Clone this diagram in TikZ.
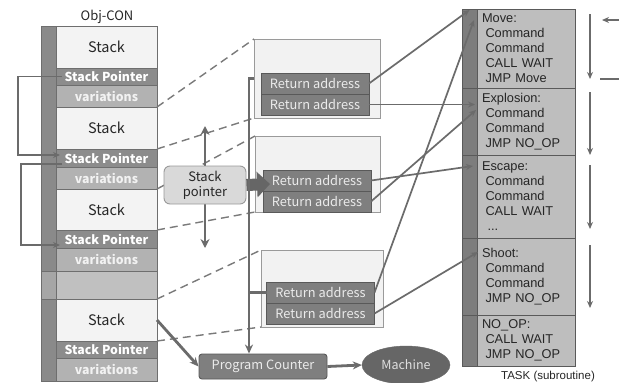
\documentclass[tikz,border=0pt]{standalone}
\usepackage{fontspec}
\setmainfont{Noto Sans CJK JP}
\newfontfamily\taskfont{Liberation Sans}
\usetikzlibrary{arrows.meta,shapes.geometric,calc}
\definecolor{stripc}{HTML}{8A8A8A}
\definecolor{stripgap}{HTML}{A6A6A6}
\definecolor{stackfill}{HTML}{F3F3F3}
\definecolor{spfill}{HTML}{8C8C8C}
\definecolor{varfill}{HTML}{B2B2B2}
\definecolor{gapfill}{HTML}{C0C0C0}
\definecolor{cellborder}{HTML}{6E6E6E}
\definecolor{grpfill}{HTML}{F2F2F2}
\definecolor{grpborder}{HTML}{9A9A9A}
\definecolor{rafill}{HTML}{7F7F7F}
\definecolor{raborder}{HTML}{595959}
\definecolor{taskfill}{HTML}{BEBEBE}
\definecolor{taskstripc}{HTML}{7D7D7D}
\definecolor{taskborder}{HTML}{5A5A5A}
\definecolor{connc}{HTML}{6B6B6B}
\definecolor{dashc}{HTML}{7A7A7A}
\definecolor{textdark}{HTML}{262626}
\definecolor{machfill}{HTML}{666666}
\definecolor{spboxfill}{HTML}{D9D9D9}
\newcommand\tind{\hspace*{3.5pt}}
\begin{document}
\begin{tikzpicture}[x=1pt,y=-1pt,
  cell/.style={draw=cellborder, line width=0.8pt, inner sep=0pt, outer sep=0pt, minimum width=101pt},
  stackcell/.style={cell, fill=stackfill, text=textdark, font=\fontsize{14.5}{16}\selectfont},
  spcell/.style={cell, fill=spfill, text=white, font=\bfseries\fontsize{12.3}{13}\selectfont},
  varcell/.style={cell, fill=varfill, text=white!95!black, font=\bfseries\fontsize{12.3}{13}\selectfont},
  gapcell/.style={cell, fill=gapfill},
  stripcell/.style={draw=cellborder, line width=0.8pt, inner sep=0pt, outer sep=0pt, minimum width=15pt},
  grp/.style={draw=grpborder, fill=grpfill, line width=0.8pt, inner sep=0pt, outer sep=0pt},
  ra/.style={draw=raborder, fill=rafill, line width=0.8pt, inner sep=0pt, outer sep=0pt, minimum width=108pt, minimum height=21pt, text=white!92!black, font=\fontsize{12.8}{14}\selectfont},
  taskcell/.style={draw=taskborder, fill=taskfill, line width=0.9pt, minimum width=98pt, text width=88pt, inner xsep=5pt, inner ysep=0pt, outer sep=0pt, align=left, text=textdark, font=\taskfont\fontsize{12.8}{15}\selectfont},
  taskstrip/.style={draw=taskborder, fill=taskstripc, line width=0.9pt, minimum width=15pt, inner sep=0pt, outer sep=0pt},
  conn/.style={draw=connc, line width=1.7pt},
  thick conn/.style={draw=connc, line width=2.8pt},
  tip/.style={-{Stealth[length=7pt,width=6pt]}},
  bigtip/.style={-{Stealth[length=9pt,width=8pt]}},
  dashline/.style={draw=dashc, line width=1.4pt, dash pattern=on 8pt off 5pt},
  lbl/.style={text=textdark, inner sep=0pt}
]
\useasboundingbox (0,0) rectangle (619,383);
\fill[white] (0,0) rectangle (619,383);

% ---------------- left column (Obj-CON)
\node[lbl, font=\fontsize{13}{14}\selectfont] (objcon) at (107,17) {Obj-CON};
\node[stripcell, fill=stripc, minimum height=245pt] (strip1) at (48.5,148.5) {};
\node[stripcell, fill=stripgap, minimum height=28pt] (strip2) at (48.5,285) {};
\node[stripcell, fill=stripc, minimum height=82pt] (strip3) at (48.5,340) {};

\node[stackcell, minimum height=42pt] (s1) at (106.5,47) {Stack};
\node[spcell, minimum height=17pt] (sp1) at (106.5,76.5) {Stack Pointer};
\node[varcell, minimum height=22pt] (v1) at (106.5,96) {variations};
\node[stackcell, minimum height=42pt] (s2) at (106.5,128) {Stack};
\node[spcell, minimum height=18pt] (sp2) at (106.5,158) {Stack Pointer};
\node[varcell, minimum height=22pt] (v2) at (106.5,178) {variations};
\node[stackcell, minimum height=41pt] (s3) at (106.5,209.5) {Stack};
\node[spcell, minimum height=18pt] (sp3) at (106.5,239) {Stack Pointer};
\node[varcell, minimum height=23pt] (v3) at (106.5,259.5) {variations};
\node[gapcell, minimum height=28pt] (gap) at (106.5,285) {};
\node[stackcell, minimum height=42pt] (s4) at (106.5,320) {Stack};
\node[spcell, minimum height=17pt] (sp4) at (106.5,349.5) {Stack Pointer};
\node[varcell, minimum height=23pt] (v4) at (106.5,369.5) {variations};

% loops between stack pointers
\draw[conn, tip] ($(sp1.west)+(6,0)$) -- (18,76.5) |- ($(sp2.west)+(4,-3)$);
\draw[conn, tip] ($(sp2.west)+(6,6)$) -- (21,164) |- ($(sp3.west)+(4,6)$);

% ---------------- return address groups
\node[grp, minimum width=126pt, minimum height=79pt] (g1) at (317,78.5) {};
\node[ra] (ra11) at (315,83.5) {Return address};
\node[ra] (ra12) at (315,104.5) {Return address};
\node[grp, minimum width=125pt, minimum height=76pt] (g2) at (317.5,174) {};
\node[ra] (ra21) at (317,180.5) {Return address};
\node[ra] (ra22) at (317,201.5) {Return address};
\node[grp, minimum width=122pt, minimum height=77pt] (g3) at (322,288.5) {};
\node[ra] (ra31) at (320.5,292.5) {Return address};
\node[ra] (ra32) at (320.5,313.5) {Return address};

% dashed projections
\draw[dashline] (s2.north east) -- (g1.north west);
\draw[dashline] (sp2.north east) -- (g1.south west);
\draw[dashline] (s3.north east) -- (g2.north west);
\draw[dashline] (sp3.north east) -- (g2.south west);
\draw[dashline] (s4.north east) -- (g3.north west);
\draw[dashline] (sp4.north east) -- (g3.south west);

% stack pointer box with double arrow
\coordinate (spu) at (205,126);
\coordinate (spd) at (205,248);
\draw[thick conn, {Stealth[length=9pt,width=9pt]}-{Stealth[length=9pt,width=9pt]}] (spu) -- (spd);
\node[draw=grpborder, fill=spboxfill, line width=0.9pt, rounded corners=6pt, minimum width=82pt, minimum height=38pt, align=center, text=textdark, font=\fontsize{13}{15}\selectfont, inner sep=0pt] (spbox) at (205,185) {Stack\\pointer};
\draw[draw=machfill, line width=12pt, -{Triangle[length=13pt,width=25pt]}] (spbox.east) -- (270,184);

% ---------------- program counter and machine
\node[draw=raborder, fill=rafill, line width=0.9pt, rounded corners=3pt, minimum width=128pt, minimum height=25pt, inner sep=0pt, text=white!92!black, font=\fontsize{12.8}{14}\selectfont] (pc) at (263,366.5) {Program Counter};
\node[ellipse, draw=machfill, fill=machfill, minimum width=88pt, minimum height=38pt, inner sep=0pt, text=white!88!black, font=\fontsize{12.5}{14}\selectfont] (mach) at (406,365) {Machine};
\draw[thick conn, bigtip] (pc.east) -- (mach.west);
\draw[thick conn, bigtip] (s4.east) -- (pc.west);

\coordinate (bus) at (249,78.5);
\draw[thick conn, bigtip] (g1.west) -- (bus) -- (bus |- pc.north);
\draw[thick conn] (ra31.west -| bus) -- (ra31.west);

% ---------------- tasks
\node[taskcell, minimum height=79pt] (t1) at (526,48.5) {Move:\\\tind Command\\\tind Command\\\tind CALL WAIT\\\tind JMP Move};
\node[taskstrip, minimum height=79pt] (st1) at (469.5,48.5) {};
\node[taskcell, minimum height=67pt] (t2) at (526,121.5) {Explosion:\\\tind Command\\\tind Command\\\tind JMP NO\_OP};
\node[taskstrip, minimum height=67pt] (st2) at (469.5,121.5) {};
\node[taskcell, minimum height=83pt] (t3) at (526,196.5) {Escape:\\\tind Command\\\tind Command\\\tind CALL WAIT\\\tind\hspace*{2pt}...};
\node[taskstrip, minimum height=83pt] (st3) at (469.5,196.5) {};
\node[taskcell, minimum height=77pt] (t4) at (526,276.5) {Shoot:\\\tind Command\\\tind Command\\\tind JMP NO\_OP};
\node[taskstrip, minimum height=77pt] (st4) at (469.5,276.5) {};
\node[taskcell, minimum height=51pt] (t5) at (526,340.5) {NO\_OP:\\\tind CALL WAIT\\\tind JMP NO\_OP};
\node[taskstrip, minimum height=51pt] (st5) at (469.5,340.5) {};
\node[lbl, anchor=south, font=\taskfont\fontsize{11.5}{13}\selectfont] (tasklbl) at (548,382.5) {TASK (subroutine)};

% return address -> task arrows
\draw[conn, tip] (ra11.east) -- ($(st1.north)+(0,1)$);
\draw[conn, tip] (ra31.east) -- ($(st1.north east)+(-3,11)$);
\draw[conn, tip] (ra12.east) -- ($(ra12.east -| st2.east)+(-2,0)$);
\draw[conn, tip] (ra22.east) -- ($(st2.north east)+(-1,22)$);
\draw[conn, tip] (ra21.east) -- ($(st3.north east)+(-4,11)$);
\draw[conn, tip] (ra32.east) -- ($(t4.north west)+(1,14)$);

% flow arrows on the right
\coordinate (f1a) at (590,14);  \coordinate (f1b) at (590,79);
\coordinate (f2a) at (590,92);  \coordinate (f2b) at (590,155);
\coordinate (f3a) at (590,165); \coordinate (f3b) at (590,229);
\coordinate (f4a) at (590,245); \coordinate (f4b) at (590,308);
\draw[conn, line width=1.4pt, tip] (f1a) -- (f1b);
\draw[conn, line width=1.4pt, tip] (f2a) -- (f2b);
\draw[conn, line width=1.4pt, tip] (f3a) -- (f3b);
\draw[conn, line width=1.4pt, tip] (f4a) -- (f4b);
\coordinate (r1a) at (620,20); \coordinate (r1b) at (602,20);
\coordinate (r2a) at (600,79); \coordinate (r2b) at (620,79);
\draw[conn, line width=1.4pt, tip] (r1a) -- (r1b);
\draw[conn, line width=1.4pt] (r2a) -- (r2b);
\end{tikzpicture}
\end{document}
